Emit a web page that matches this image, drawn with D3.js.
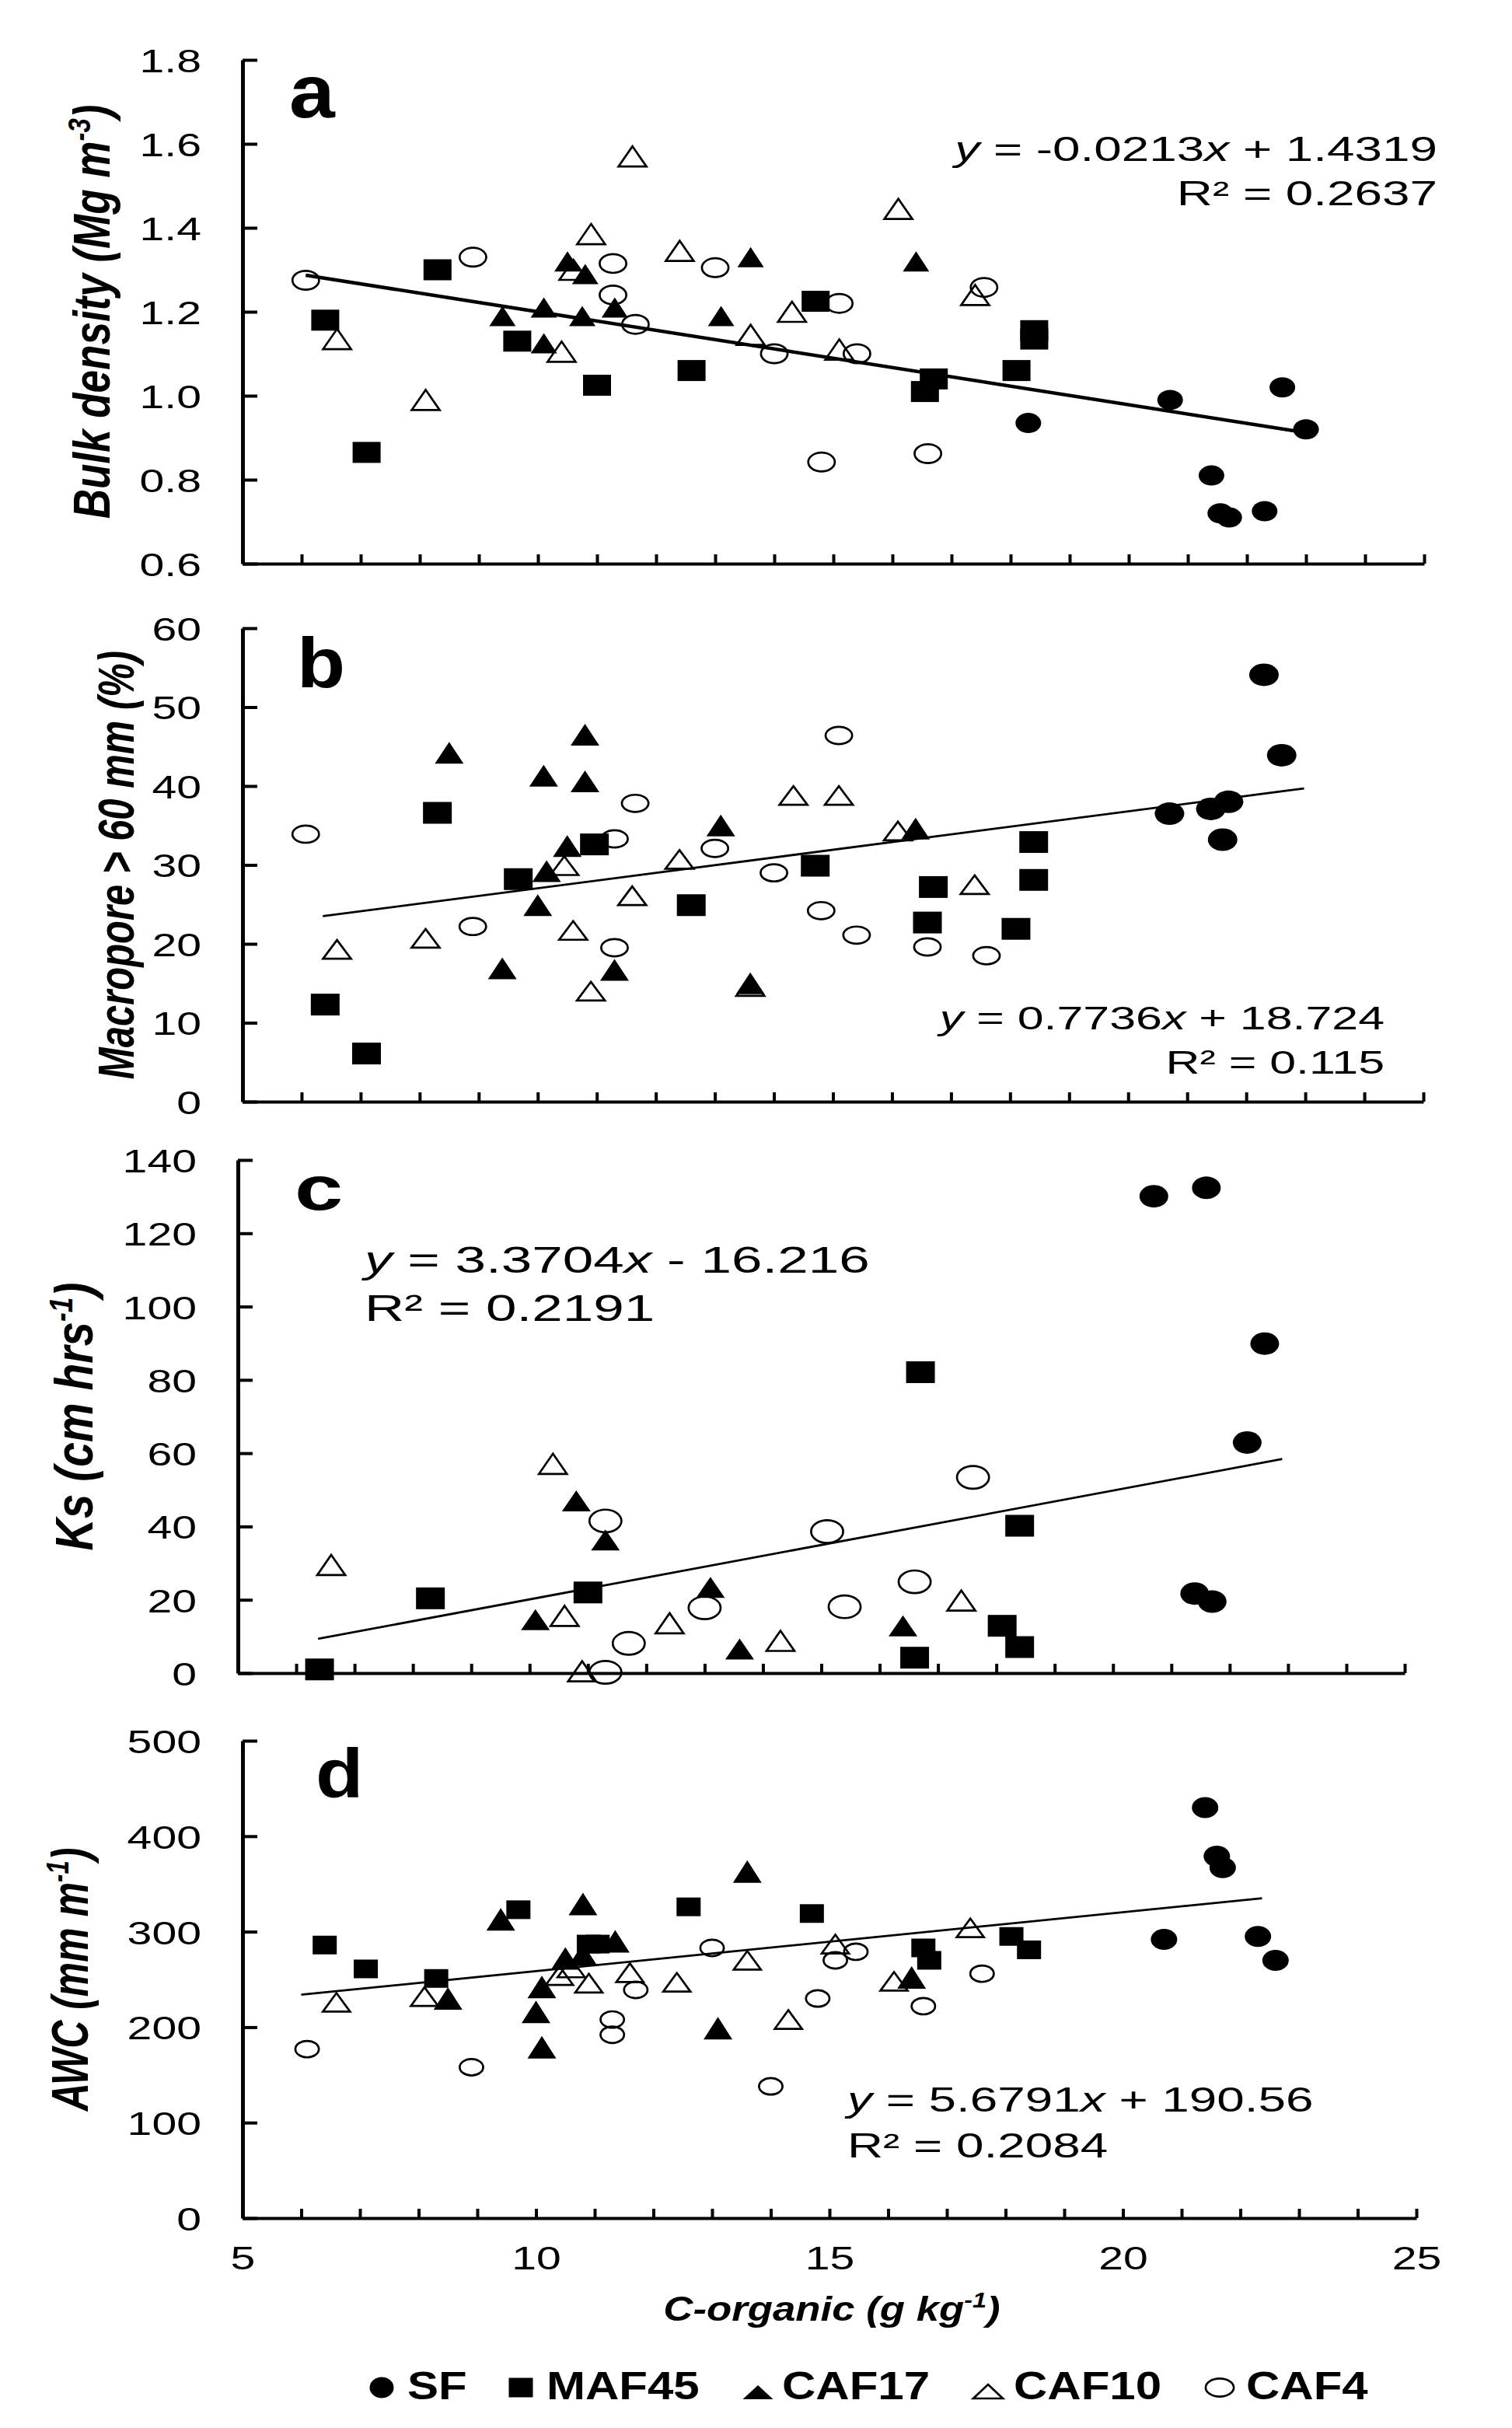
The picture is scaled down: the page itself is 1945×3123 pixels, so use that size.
<!DOCTYPE html>
<html>
<head>
<meta charset="utf-8">
<script src="https://cdn.jsdelivr.net/npm/d3@7"></script>
<style>
  body { margin: 0; background: #fff; }
  text { font-family: "Liberation Sans", Arial, sans-serif; fill: #000; white-space: pre; }
</style>
</head>
<body>
<script>
// canvas
var w = 1945;
var h = 3123;

// shared x axis (C-organic, g kg-1)
var xTicks = d3.range(5, 26);
var xLabels = [5, 10, 15, 20, 25];
var groups = ["SF", "MAF45", "CAF17", "CAF10", "CAF4"];

// a: bulk density (Mg m-3)
var bdTicks = [0.6, 0.8, 1.0, 1.2, 1.4, 1.6, 1.8];
var bdSF = [[18.3, 0.935], [20.7, 0.99], [21.4, 0.81], [21.55, 0.72], [21.7, 0.71], [22.3, 0.725], [22.6, 1.02], [23.0, 0.92]];
var bdMAF45 = [[6.4, 1.18], [7.1, 0.865], [8.3, 1.30], [9.65, 1.13], [11.0, 1.025], [12.6, 1.06], [14.7, 1.225], [16.55, 1.01], [16.7, 1.04], [18.1, 1.06], [18.4, 1.135], [18.4, 1.155]];
var bdCAF17 = [[9.4, 1.19], [10.1, 1.21], [10.1, 1.125], [10.5, 1.32], [10.75, 1.19], [10.8, 1.29], [11.3, 1.21], [13.1, 1.19], [13.6, 1.33], [16.4, 1.32]];
var bdCAF10 = [[6.6, 1.135], [8.1, 0.99], [10.4, 1.105], [10.6, 1.30], [10.9, 1.385], [11.6, 1.57], [12.4, 1.345], [13.6, 1.145], [14.3, 1.20], [15.1, 1.11], [16.1, 1.445], [17.4, 1.24]];
var bdCAF4 = [[6.07, 1.275], [8.9, 1.33], [11.27, 1.315], [11.27, 1.24], [11.65, 1.17], [13.0, 1.305], [14.0, 1.10], [14.8, 0.842], [15.1, 1.22], [15.4, 1.10], [16.6, 0.862], [17.55, 1.258]];
var bdTrend = [[6.07, 1.287], [23.0, 0.912]];

// b: macropore > 60 mm (%)
var mpTicks = [0, 10, 20, 30, 40, 50, 60];
var mpSF = [[20.7, 36.5], [21.4, 37.1], [21.7, 38.0], [21.6, 33.2], [22.3, 54.1], [22.6, 43.9]];
var mpMAF45 = [[6.4, 12.3], [7.1, 6.1], [8.3, 36.6], [9.67, 28.2], [10.96, 32.6], [12.6, 24.9], [14.7, 29.9], [16.6, 22.7], [16.7, 27.2], [18.1, 21.9], [18.4, 28.1], [18.4, 32.9]];
var mpCAF17 = [[8.5, 44.2], [9.4, 16.9], [10.0, 24.9], [10.1, 41.3], [10.15, 29.2], [10.5, 32.4], [10.8, 46.5], [10.8, 40.6], [11.3, 16.7], [13.1, 35.0], [13.6, 15.0], [16.4, 34.6]];
var mpCAF10 = [[6.6, 19.3], [8.1, 20.7], [10.45, 29.9], [10.6, 21.7], [10.9, 14.0], [11.6, 26.1], [12.4, 30.7], [13.6, 14.6], [14.33, 38.8], [15.1, 38.8], [16.1, 34.3], [17.4, 27.5]];
var mpCAF4 = [[6.07, 33.9], [8.9, 22.2], [11.3, 33.3], [11.3, 19.5], [11.65, 37.8], [13.0, 32.1], [14.0, 29.0], [14.8, 24.2], [15.1, 46.4], [15.4, 21.1], [16.6, 19.6], [17.6, 18.5]];
var mpTrend = [[6.36, 23.5], [22.98, 39.7]];

// c: Ks (cm hrs-1)
var ksTicks = [0, 20, 40, 60, 80, 100, 120, 140];
var ksSF = [[20.7, 130.1], [21.6, 132.4], [22.6, 89.9], [22.3, 62.9], [21.4, 21.7], [21.7, 19.5]];
var ksMAF45 = [[6.4, 1.0], [8.3, 20.4], [11.0, 22.0], [16.6, 4.2], [16.7, 82.1], [18.1, 12.9], [18.4, 7.1], [18.4, 40.2]];
var ksCAF17 = [[10.1, 14.6], [10.8, 47.0], [11.3, 36.3], [13.1, 23.4], [13.6, 6.6], [16.4, 12.9]];
var ksCAF10 = [[6.6, 29.5], [10.4, 57.1], [10.6, 15.6], [10.9, 0.5], [12.4, 13.6], [14.3, 8.8], [17.4, 19.8]];
var ksCAF4 = [[11.3, 41.5], [11.3, 0.2], [11.7, 8.1], [13.0, 17.8], [15.1, 38.6], [15.4, 18.1], [16.6, 24.9], [17.6, 53.4]];
var ksTrend = [[6.375, 9.35], [22.9, 58.4]];

// d: AWC (mm m-1)
var awTicks = [0, 100, 200, 300, 400, 500];
var awSF = [[21.4, 430], [21.6, 379], [21.7, 367], [20.7, 292], [22.3, 295], [22.6, 270]];
var awMAF45 = [[6.4, 286], [7.1, 261], [8.3, 251], [9.7, 323], [10.9, 287], [11.05, 287], [12.6, 326], [14.7, 319], [16.6, 283], [16.7, 270], [18.1, 295], [18.4, 281]];
var awCAF17 = [[8.5, 230], [9.4, 313], [10.0, 216], [10.1, 242], [10.1, 179], [10.5, 272], [10.8, 329], [10.8, 276], [11.35, 290], [13.1, 199], [13.6, 363], [16.4, 252]];
var awCAF10 = [[6.6, 226], [8.1, 232], [10.4, 254], [10.6, 262], [10.9, 246], [11.6, 257], [12.4, 247], [13.6, 270], [14.3, 208], [15.1, 287], [16.1, 248], [17.4, 304]];
var awCAF4 = [[6.1, 177], [8.9, 158], [11.3, 208], [11.3, 192], [11.7, 239], [13.0, 283], [14.0, 138], [14.8, 230], [15.1, 270], [15.45, 279], [16.6, 222], [17.6, 256]];
var awTrend = [[6.0, 234], [22.37, 335]];

// equations as [text, italic]
var eqA = [["y", 1], [" = -0.0213", 0], ["x", 1], [" + 1.4319", 0]];
var eqB = [["y", 1], [" = 0.7736", 0], ["x", 1], [" + 18.724", 0]];
var eqC = [["y", 1], [" = 3.3704", 0], ["x", 1], [" - 16.216", 0]];
var eqD = [["y", 1], [" = 5.6791", 0], ["x", 1], [" + 190.56", 0]];

// panel setup (the picture is stretched sideways, so sizes come as width x height)
var panels = [
  { letter: "a", x0: 312, x1: 1832, yTop: 77, yBot: 725, dom: [0.6, 1.8], ticks: bdTicks, fmt: d3.format(".1f"),
    series: [bdSF, bdMAF45, bdCAF17, bdCAF10, bdCAF4], trend: bdTrend, lw: 4.5,
    sizes: [[33, 26], [36, 27], [34, 26], [39, 29], [37, 27]],
    title: ["Bulk density (Mg m", "-3", ")"], tx: 141, tfs: 53, tsx: 1.25,
    lx: 372, ly: 151, lfs: 96, lsx: 1.1,
    eq: eqA, r2: "R\u00b2 = 0.2637", ex: 1849, ey: 207, ry: 264, efs: 44, anchor: "end" },
  { letter: "b", x0: 312, x1: 1831, yTop: 808, yBot: 1417, dom: [0, 60], ticks: mpTicks, fmt: d3.format("d"),
    series: [mpSF, mpMAF45, mpCAF17, mpCAF10, mpCAF4], trend: mpTrend, lw: 2.8,
    sizes: [[38, 29], [37, 28], [37, 28], [39, 27], [37, 25]],
    title: ["Macropore > 60 mm (%)"], tx: 172, tfs: 49, tsx: 1.33,
    lx: 382, ly: 884, lfs: 90, lsx: 1.13,
    eq: eqB, r2: "R\u00b2 = 0.115", ex: 1781, ey: 1324, ry: 1381, efs: 42, anchor: "end" },
  { letter: "c", x0: 306, x1: 1807, yTop: 1492, yBot: 2152, dom: [0, 140], ticks: ksTicks, fmt: d3.format("d"),
    series: [ksSF, ksMAF45, ksCAF17, ksCAF10, ksCAF4], trend: ksTrend, lw: 2.8,
    sizes: [[37, 29], [37, 28], [37, 27], [39, 29], [44, 32]],
    title: ["Ks (cm hrs", "-1", ")"], tx: 119, tfs: 57, tsx: 1.2,
    lx: 379, ly: 1556, lfs: 80, lsx: 1.4,
    eq: eqC, r2: "R\u00b2 = 0.2191", ex: 469, ey: 1637, ry: 1699, efs: 49, anchor: "start" },
  { letter: "d", x0: 312, x1: 1822, yTop: 2239, yBot: 2853, dom: [0, 500], ticks: awTicks, fmt: d3.format("d"),
    series: [awSF, awMAF45, awCAF17, awCAF10, awCAF4], trend: awTrend, lw: 2.8, showX: true,
    sizes: [[34, 27], [31, 24], [37, 29], [38, 27], [33, 24]],
    title: ["AWC (mm m", "-1", ")"], tx: 113, tfs: 50, tsx: 1.33,
    lx: 406, ly: 2312, lfs: 89, lsx: 1.13,
    eq: eqD, r2: "R\u00b2 = 0.2084", ex: 1090, ey: 2716, ry: 2775, efs: 44, anchor: "start" }
];

var shapes = ["dot", "square", "tri", "otri", "ocircle"];
var stretch = 1.33;   // horizontal stretch of tick labels
var eqStretch = 1.45;

var svg = d3.select("body")
  .append("svg")
  .attr("width", w)
  .attr("height", h);

function marker(sel, shape, sz) {
  var mw = sz[0], mh = sz[1];
  if (shape === "dot") {
    sel.append("ellipse").attr("rx", mw / 2).attr("ry", mh / 2).attr("fill", "#000");
  } else if (shape === "ocircle") {
    sel.append("ellipse").attr("rx", mw / 2 - 1.4).attr("ry", mh / 2 - 1.4)
      .attr("fill", "none").attr("stroke", "#000").attr("stroke-width", 2.7);
  } else if (shape === "square") {
    sel.append("rect").attr("x", -mw / 2).attr("y", -mh / 2).attr("width", mw).attr("height", mh).attr("fill", "#000");
  } else {
    var open = shape === "otri";
    var inset = open ? 1.5 : 0;
    var p = "M0," + (-mh / 2 + inset) + "L" + (mw / 2 - inset) + "," + (mh / 2 - inset) +
      "L" + (-mw / 2 + inset) + "," + (mh / 2 - inset) + "Z";
    sel.append("path").attr("d", p)
      .attr("fill", open ? "none" : "#000")
      .attr("stroke", open ? "#000" : "none")
      .attr("stroke-width", 2.7)
      .attr("stroke-linejoin", "miter");
  }
}

function stretchedText(parent, x, y, sx, fs, anchor) {
  return parent.append("text")
    .attr("transform", "translate(" + x + "," + y + ") scale(" + sx + ",1)")
    .attr("text-anchor", anchor)
    .style("font-size", fs + "px");
}

panels.forEach(function(p) {
  var x = d3.scaleLinear().domain([5, 25]).range([p.x0, p.x1]);
  var y = d3.scaleLinear().domain(p.dom).range([p.yBot, p.yTop]);
  var g = svg.append("g");

  // y axis, inward ticks
  var ya = g.append("g")
    .attr("transform", "translate(" + p.x0 + ",0)")
    .attr("font-size", null).attr("font-family", null)
    .call(d3.axisLeft(y).tickValues(p.ticks).tickSize(-19).tickSizeOuter(0).tickFormat(p.fmt));
  ya.select(".domain").attr("stroke-width", 5);
  ya.selectAll(".tick line").attr("stroke-width", 4);
  ya.selectAll(".tick text")
    .attr("x", -53 / stretch)
    .attr("dy", "0.36em")
    .attr("transform", "scale(" + stretch + ",1)")
    .style("font-size", "43px");

  // x axis, inward ticks every unit
  var xa = g.append("g")
    .attr("transform", "translate(0," + p.yBot + ")")
    .attr("font-size", null).attr("font-family", null)
    .call(d3.axisBottom(x).tickValues(xTicks).tickSize(-12).tickSizeOuter(0)
      .tickFormat(function(d) { return p.showX && xLabels.indexOf(d) >= 0 ? d : ""; }));
  xa.select(".domain").attr("stroke-width", 4);
  xa.selectAll(".tick line").attr("stroke-width", 4);
  xa.selectAll(".tick text")
    .attr("y", 66)
    .attr("dy", 0)
    .attr("transform", "scale(" + stretch + ",1)")
    .style("font-size", "43px");

  // trend line
  g.append("line")
    .attr("x1", x(p.trend[0][0])).attr("y1", y(p.trend[0][1]))
    .attr("x2", x(p.trend[1][0])).attr("y2", y(p.trend[1][1]))
    .attr("stroke", "#000")
    .attr("stroke-width", p.lw);

  // points
  p.series.forEach(function(s, i) {
    g.append("g").selectAll("g")
      .data(s)
      .enter()
      .append("g")
      .attr("transform", function(d) { return "translate(" + x(d[0]) + "," + y(d[1]) + ")"; })
      .each(function() { marker(d3.select(this), shapes[i], p.sizes[i]); });
  });

  // panel letter
  stretchedText(g, p.lx, p.ly, p.lsx, p.lfs, "start")
    .style("font-weight", "bold")
    .text(p.letter);

  // equation and R2
  var eq = stretchedText(g, p.ex, p.ey, eqStretch, p.efs, p.anchor);
  p.eq.forEach(function(part) {
    eq.append("tspan").style("font-style", part[1] ? "italic" : "normal").text(part[0]);
  });
  stretchedText(g, p.ex, p.ry, eqStretch, p.efs, p.anchor).text(p.r2);

  // y title
  var t = g.append("text")
    .attr("transform", "translate(" + p.tx + "," + (p.yTop + p.yBot) / 2 + ") scale(" + p.tsx + ",1) rotate(-90)")
    .attr("text-anchor", "middle")
    .style("font-size", p.tfs + "px")
    .style("font-weight", "bold")
    .style("font-style", "italic");
  t.append("tspan").text(p.title[0]);
  if (p.title.length > 1) {
    t.append("tspan").attr("dy", -p.tfs * 0.38).style("font-size", (p.tfs * 0.62) + "px").text(p.title[1]);
    t.append("tspan").attr("dy", p.tfs * 0.38).text(p.title[2]);
  }
});

// x title
var xt = stretchedText(svg, 1070, 2985, 1.2, 44, "middle")
  .style("font-weight", "bold")
  .style("font-style", "italic");
xt.append("tspan").text("C-organic (g kg");
xt.append("tspan").attr("dy", -17).style("font-size", "27px").text("-1");
xt.append("tspan").attr("dy", 17).text(")");

// legend
var legendX = [491, 670, 975, 1271, 1569];
var legendTextX = [524, 703, 1006, 1304, 1603];
var legendSize = [[31, 27], [31, 25], [39, 18], [41, 21], [39, 26]];
var legendCy = [3071, 3071, 3077, 3076, 3071];
groups.forEach(function(name, i) {
  var m = svg.append("g").attr("transform", "translate(" + legendX[i] + "," + legendCy[i] + ")");
  marker(m, shapes[i], legendSize[i]);
  stretchedText(svg, legendTextX[i], 3086, 1.2, 50, "start")
    .style("font-weight", "bold")
    .text(name);
});
</script>
</body>
</html>
